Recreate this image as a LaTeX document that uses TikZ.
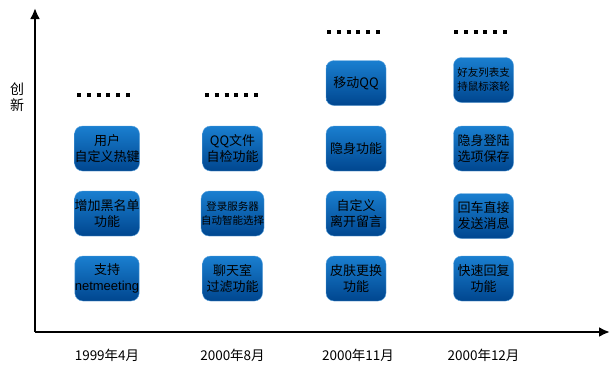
\documentclass[tikz,border=0pt]{standalone}
\usepackage{fontspec}
\setmainfont{Liberation Sans}
\newfontfamily\cjk{Noto Sans CJK SC}
\usetikzlibrary{arrows.meta}
\definecolor{qqtop}{HTML}{1A7FD0}
\definecolor{qqbot}{HTML}{00468F}
\tikzset{
	feature/.style={rounded corners=8pt,minimum width=60pt,minimum height=45pt,
		top color=qqtop,bottom color=qqbot,draw=qqtop!70,line width=0.4pt,
		align=center,inner sep=0pt,font=\cjk\fontsize{13}{16}\selectfont},
	small/.style={font=\cjk\fontsize{10.5}{14}\selectfont},
	axis/.style={line width=2.6pt,-{Latex[length=11pt,width=10pt]}},
	more/.style={line width=4pt,dash pattern=on 4pt off 5.8pt},
	year/.style={font=\cjk\fontsize{13.5}{15}\selectfont}
}
\begin{document}
\begin{tikzpicture}[x=1pt,y=-1pt]
	\useasboundingbox (0,0) rectangle (612,370);
	% axes
	\coordinate (O) at (35,332);
	\coordinate (Y) at (35,8);
	\coordinate (X) at (610,332);
	\draw[axis] (O) -- (Y);
	\draw[axis] (O) -- (X);
	\node[font=\cjk\fontsize{14}{16}\selectfont,align=center] (innov) at (17,97) {创\\新};
	% 1999
	\node[feature] (a1) at (107,148.5) {用户\\自定义热键};
	\node[feature] (a2) at (107,213.5) {增加黑名单\\功能};
	\node[feature] (a3) at (107,278.5) {支持\\{\rmfamily\fontsize{13}{16}\selectfont netmeeting}};
	\draw[more] (77,95) -- (130,95);
	% 2000/8
	\node[feature] (b1) at (232.5,148.5) {QQ文件\\自检功能};
	\node[feature,small] (b2) at (232.5,213.5) {登录服务器\\自动智能选择};
	\node[feature] (b3) at (232.5,278.5) {聊天室\\过滤功能};
	\draw[more] (205,95) -- (258,95);
	% 2000/11
	\node[feature] (c0) at (356,83) {移动QQ};
	\node[feature] (c1) at (356,148.5) {隐身功能};
	\node[feature] (c2) at (356,213.5) {自定义\\离开留言};
	\node[feature] (c3) at (356,278.5) {皮肤更换\\功能};
	\draw[more] (327,32) -- (380,32);
	% 2000/12
	\node[feature,small] (d0) at (483.5,80) {好友列表支\\持鼠标滚轮};
	\node[feature] (d1) at (483.5,148.5) {隐身登陆\\选项保存};
	\node[feature] (d2) at (483.5,216) {回车直接\\发送消息};
	\node[feature] (d3) at (483.5,278.5) {快速回复\\功能};
	\draw[more] (454,32) -- (507,32);
	% dates
	\node[year] (t1) at (107,355) {1999年4月};
	\node[year] (t2) at (232.5,355) {2000年8月};
	\node[year] (t3) at (358,355) {2000年11月};
	\node[year] (t4) at (483.5,355) {2000年12月};
\end{tikzpicture}
\end{document}
